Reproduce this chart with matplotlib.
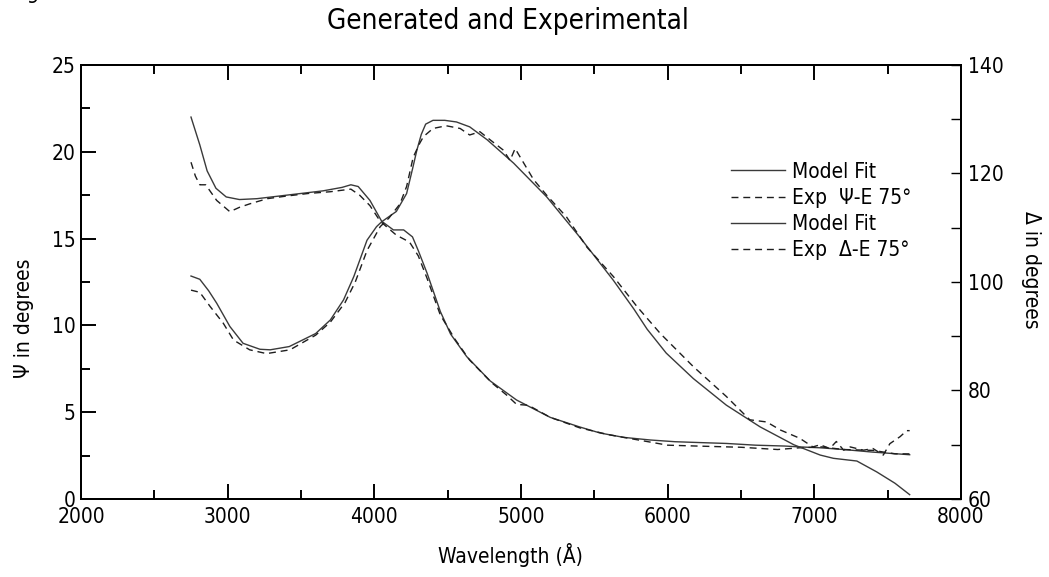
import numpy as np
import matplotlib
matplotlib.use("Agg")
import matplotlib.pyplot as plt
from matplotlib.ticker import MultipleLocator

plt.rcParams['font.family'] = ['DejaVu Sans']
plt.rcParams['font.stretch'] = 'condensed'

# Psi (left axis, degrees)
wl_psi_fit = [2750, 2810, 2860, 2920, 2990, 3080, 3200, 3350, 3500, 3650, 3780, 3840, 3890,
              3970, 4050, 4130, 4200, 4260, 4300, 4360, 4450, 4520, 4630, 4790, 4970, 5200,
              5400, 5540, 5700, 5880, 6050, 6220, 6400, 6600, 6800, 6900, 7040, 7200, 7400, 7650]
psi_fit = [22.0, 20.4, 18.9, 17.9, 17.4, 17.25, 17.3, 17.45, 17.6, 17.75, 17.95, 18.1, 18.0,
           17.2, 16.0, 15.5, 15.5, 15.1, 14.3, 13.0, 10.8, 9.5, 8.2, 6.8, 5.7, 4.7,
           4.15, 3.8, 3.55, 3.4, 3.3, 3.25, 3.2, 3.1, 3.05, 3.0, 2.95, 2.85, 2.7, 2.55]

wl_psi_exp = [2750, 2780, 2810, 2850, 2925, 3015, 3080, 3150, 3270, 3400, 3550, 3700, 3840,
              3900, 3970, 4040, 4150, 4240, 4300, 4360, 4450, 4550, 4650, 4800, 4900, 4970,
              5050, 5200, 5400, 5600, 5800, 6000, 6200, 6500, 6750, 6900, 7050, 7200, 7400,
              7550, 7650]
psi_exp = [19.4, 18.6, 18.1, 18.1, 17.2, 16.55, 16.8, 17.0, 17.3, 17.45, 17.6, 17.7, 17.85,
           17.5, 16.9, 16.0, 15.2, 14.8, 14.0, 12.7, 10.6, 9.2, 8.0, 6.7, 6.0, 5.45,
           5.4, 4.7, 4.1, 3.7, 3.4, 3.1, 3.05, 2.98, 2.85, 2.95, 3.0, 2.85, 2.8,
           2.6, 2.6]

# Delta (right axis, degrees)
wl_del_fit = [2750, 2810, 2870, 2925, 3015, 3105, 3220, 3290, 3420, 3600, 3700, 3790, 3860,
              3950, 4015, 4050, 4150, 4220, 4260, 4290, 4320, 4350, 4400, 4480, 4560, 4650,
              4770, 4950, 5175, 5400, 5630, 5770, 5860, 5990, 6175, 6400, 6630, 6860,
              7040, 7130, 7290, 7425, 7550, 7650]
del_fit = [101.1, 100.5, 98.4, 96.1, 91.8, 88.7, 87.6, 87.5, 88.1, 90.5, 93.0, 96.7, 101.0,
           107.7, 110.2, 111.1, 113.0, 116.3, 120.8, 124.3, 127.2, 129.1, 129.8, 129.8, 129.5,
           128.6, 126.2, 121.9, 115.7, 108.3, 100.3, 95.0, 91.3, 86.9, 82.2, 77.3,
           73.3, 70.0, 68.1, 67.5, 67.0, 65.0, 62.9, 60.8]

wl_del_exp = [2750, 2810, 2880, 2970, 3040, 3150, 3265, 3425, 3600, 3700, 3800, 3870, 3950,
              4040, 4100, 4175, 4220, 4265, 4310, 4335, 4400, 4490, 4585, 4650, 4720, 4790,
              4880, 4925, 4960, 4995, 5085, 5175, 5310, 5450, 5630, 5790, 5950, 6175, 6400,
              6560, 6675, 6770, 6900, 6990, 7040, 7105, 7150, 7200, 7245, 7335, 7400, 7470,
              7515, 7585, 7630, 7650]
del_exp = [98.5, 98.1, 95.5, 92.4, 89.3, 87.5, 86.8, 87.5, 90.2, 92.6, 96.2, 100.0, 105.8,
           110.2, 111.8, 114.4, 117.6, 123.0, 125.6, 126.8, 128.3, 128.8, 128.3, 127.1, 127.7,
           126.2, 124.3, 122.4, 124.6, 123.0, 118.9, 116.0, 112.0, 106.4, 101.0, 95.5, 90.5,
           84.4, 78.9, 74.6, 74.2, 72.7, 71.2, 69.6, 70.0, 69.3, 70.6, 69.0, 69.6, 69.0,
           69.3, 68.1, 70.2, 71.5, 72.6, 72.6]

W, H = 1049, 577
fig = plt.figure(figsize=(W / 100, H / 100), dpi=100)
ax = fig.add_axes([81 / W, 1 - 499 / H, 880 / W, 434 / H])
ax2 = ax.twinx()

line_col = '#3a3a3a'
dash_col = '#1e1e1e'
l1, = ax.plot(wl_psi_fit, psi_fit, color=line_col, lw=1.0, label='Model Fit')
l2, = ax.plot(wl_psi_exp, psi_exp, color=dash_col, lw=1.0, ls=(0, (5, 3.5)),
              label='Exp  \u03a8-E 75\u00b0')
l3, = ax2.plot(wl_del_fit, del_fit, color=line_col, lw=1.0, label='Model Fit')
l4, = ax2.plot(wl_del_exp, del_exp, color=dash_col, lw=1.0, ls=(0, (5, 3.5)),
               label='Exp  \u0394-E 75\u00b0')

ax.set_xlim(2000, 8000)
ax.set_ylim(0, 25)
ax2.set_ylim(60, 140)

ax.xaxis.set_major_locator(MultipleLocator(1000))
ax.xaxis.set_minor_locator(MultipleLocator(500))
ax.yaxis.set_major_locator(MultipleLocator(5))
ax.yaxis.set_minor_locator(MultipleLocator(2.5))
ax2.yaxis.set_major_locator(MultipleLocator(20))
ax2.yaxis.set_minor_locator(MultipleLocator(10))

fs = 15
ax.tick_params(which='both', direction='in', top=True, right=False, width=1.4,
               labelsize=fs)
ax.tick_params(which='major', length=10.5)
ax.tick_params(which='minor', length=6.5)
ax.tick_params(axis='y', pad=4)
ax.tick_params(axis='x', pad=6)
ax2.tick_params(which='both', direction='in', width=1.0, labelsize=fs, pad=5)
ax2.tick_params(which='major', length=7)
ax2.tick_params(which='minor', length=7)

for a in (ax, ax2):
    for s in a.spines.values():
        s.set_linewidth(1.4)

fig.text(508 / W, 1 - 21 / H, 'Generated and Experimental', ha='center', va='center',
         fontsize=20)
fig.text(510 / W, 1 - 555 / H, 'Wavelength (\u00c5)', ha='center', va='center', fontsize=fs)
fig.text(24 / W, 1 - 318 / H, '\u03a8 in degrees', ha='center', va='center',
         rotation=90, fontsize=fs)
fig.text(1031 / W, 1 - 270 / H, '\u0394 in degrees', ha='center', va='center',
         rotation=270, fontsize=fs)
# clipped remnant of a label above the figure
fig.text(5 / W, 1.012, 'degrees', ha='left', va='center', fontsize=fs, style='italic')

fig.legend(handles=[l1, l2, l3, l4], loc='upper left',
           bbox_to_anchor=(716 / W, 1 - 147 / H), frameon=False, fontsize=fs,
           handlelength=2.6, handletextpad=0.35, labelspacing=0.3, borderpad=0.2)

fig.savefig('out.png', dpi=100)
